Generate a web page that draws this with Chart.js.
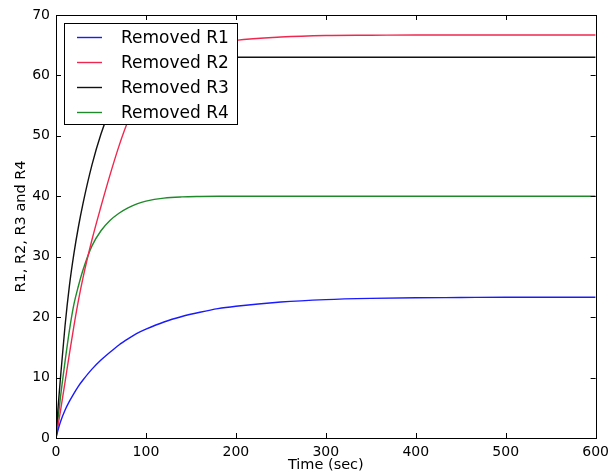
<!DOCTYPE html>
<html lang="en">
<head>
    <meta charset="UTF-8">
    <title>Removed R1-R4</title>
    <script src="https://cdn.jsdelivr.net/npm/chart.js"></script>
    <style>
        html, body { margin: 0; padding: 0; background: #fff; }
        #wrap { width: 615px; height: 474px; }
    </style>
</head>
<body>
    <div id="wrap"><canvas id="chart" width="615" height="474"></canvas></div>

    <script>
        // time axis (sec) and the four curves
        const times = [0, 2, 5, 10, 15, 20, 25, 30, 40, 50, 60, 70, 80, 90, 100, 120, 140, 160, 180, 200, 250, 300, 350, 400, 450, 500, 550, 600];
        const r1 = [0, 1.2, 2.7, 4.6, 6.1, 7.4, 8.6, 9.6, 11.4, 12.9, 14.2, 15.4, 16.4, 17.3, 18.0, 19.2, 20.1, 20.8, 21.4, 21.8, 22.5, 22.9, 23.1, 23.2, 23.25, 23.3, 23.3, 23.3];
        const r2 = [0, 1.8, 4.5, 9.2, 14.0, 18.6, 22.8, 26.5, 32.8, 38.3, 43.5, 48.3, 52.4, 55.6, 58.0, 61.3, 63.3, 64.5, 65.3, 65.8, 66.35, 66.6, 66.65, 66.7, 66.7, 66.7, 66.7, 66.7];
        const r3 = [0, 4.5, 10.0, 18.5, 25.3, 30.6, 35.0, 38.8, 45.2, 50.3, 54.3, 57.3, 59.4, 60.8, 61.7, 62.5, 62.8, 62.95, 63.0, 63.0, 63.0, 63.0, 63.0, 63.0, 63.0, 63.0, 63.0, 63.0];
        const r4 = [0, 2.8, 6.8, 12.6, 17.9, 22.2, 25.2, 27.8, 31.8, 34.3, 36.0, 37.2, 38.1, 38.75, 39.2, 39.7, 39.9, 39.97, 40.0, 40.0, 40.0, 40.0, 40.0, 40.0, 40.0, 40.0, 40.0, 40.0];

        const labels = ['Removed R1', 'Removed R2', 'Removed R3', 'Removed R4'];
        const colors = ['#1a1aff', '#f0284f', '#111111', '#1f8a2a'];
        const series = [r1, r2, r3, r4];

        const xTicks = [0, 100, 200, 300, 400, 500, 600];
        const yTicks = [0, 10, 20, 30, 40, 50, 60, 70];

        const FONT = "'DejaVu Sans', sans-serif";

        // matplotlib-like frame, inward ticks and legend box
        const framePlugin = {
            id: 'frame',
            afterDraw(chart) {
                const ctx = chart.ctx;
                const a = chart.chartArea;
                const xs = chart.scales.x, ys = chart.scales.y;
                ctx.save();
                ctx.strokeStyle = '#000';
                ctx.lineWidth = 1;
                ctx.strokeRect(Math.round(a.left) + 0.5, Math.round(a.top) + 0.5,
                    Math.round(a.right - a.left), Math.round(a.bottom - a.top));
                ctx.beginPath();
                xTicks.forEach(v => {
                    const px = Math.round(xs.getPixelForValue(v)) + 0.5;
                    ctx.moveTo(px, a.bottom); ctx.lineTo(px, a.bottom - 5);
                    ctx.moveTo(px, a.top); ctx.lineTo(px, a.top + 5);
                });
                yTicks.forEach(v => {
                    const py = Math.round(ys.getPixelForValue(v)) + 0.5;
                    ctx.moveTo(a.left, py); ctx.lineTo(a.left + 5, py);
                    ctx.moveTo(a.right, py); ctx.lineTo(a.right - 5, py);
                });
                ctx.stroke();

                // legend
                const lx = a.left + 8, ly = a.top + 8, lw = 173, lh = 101;
                ctx.fillStyle = '#fff';
                ctx.fillRect(lx, ly, lw, lh);
                ctx.strokeRect(Math.round(lx) + 0.5, Math.round(ly) + 0.5, lw, lh);
                ctx.font = '17px ' + FONT;
                ctx.textBaseline = 'middle';
                chart.data.datasets.forEach((ds, i) => {
                    const y = Math.round(ly + 14 + i * 25) + 0.5;
                    ctx.strokeStyle = ds.borderColor;
                    ctx.lineWidth = 1.4;
                    ctx.beginPath();
                    ctx.moveTo(lx + 13, y); ctx.lineTo(lx + 38, y);
                    ctx.stroke();
                    ctx.fillStyle = '#000';
                    ctx.fillText(ds.label, lx + 57, y + 1);
                });
                ctx.restore();
            }
        };

        new Chart(document.getElementById('chart'), {
            type: 'line',
            data: {
                datasets: series.map((s, i) => ({
                    label: labels[i],
                    data: times.map((t, j) => ({ x: t, y: s[j] })),
                    borderColor: colors[i],
                    borderWidth: 1.4,
                    pointRadius: 0,
                    fill: false,
                    cubicInterpolationMode: 'monotone'
                }))
            },
            options: {
                responsive: false,
                animation: false,
                layout: { padding: { left: 0, right: 15, top: 15, bottom: 0 } },
                plugins: {
                    legend: { display: false },
                    tooltip: { enabled: false }
                },
                scales: {
                    x: {
                        type: 'linear',
                        min: 0, max: 600,
                        afterBuildTicks: s => { s.ticks = xTicks.map(v => ({ value: v })); },
                        afterFit: s => { s.height = 36; },
                        grid: { display: false, drawTicks: false },
                        border: { display: false },
                        ticks: { color: '#000', padding: 6, maxRotation: 0, font: { family: FONT, size: 14 } },
                        title: { display: true, text: 'Time (sec)', color: '#000', padding: { top: 0, bottom: 0 }, font: { family: FONT, size: 14.5 } }
                    },
                    y: {
                        min: 0, max: 70,
                        afterBuildTicks: s => { s.ticks = yTicks.map(v => ({ value: v })); },
                        afterFit: s => { s.width = 56; },
                        grid: { display: false, drawTicks: false },
                        border: { display: false },
                        ticks: { color: '#000', padding: 6, font: { family: FONT, size: 14 } },
                        title: { display: true, text: 'R1, R2, R3 and R4', color: '#000', padding: { top: 13, bottom: 0 }, font: { family: FONT, size: 14.5 } }
                    }
                }
            },
            plugins: [framePlugin]
        });
    </script>
</body>
</html>
